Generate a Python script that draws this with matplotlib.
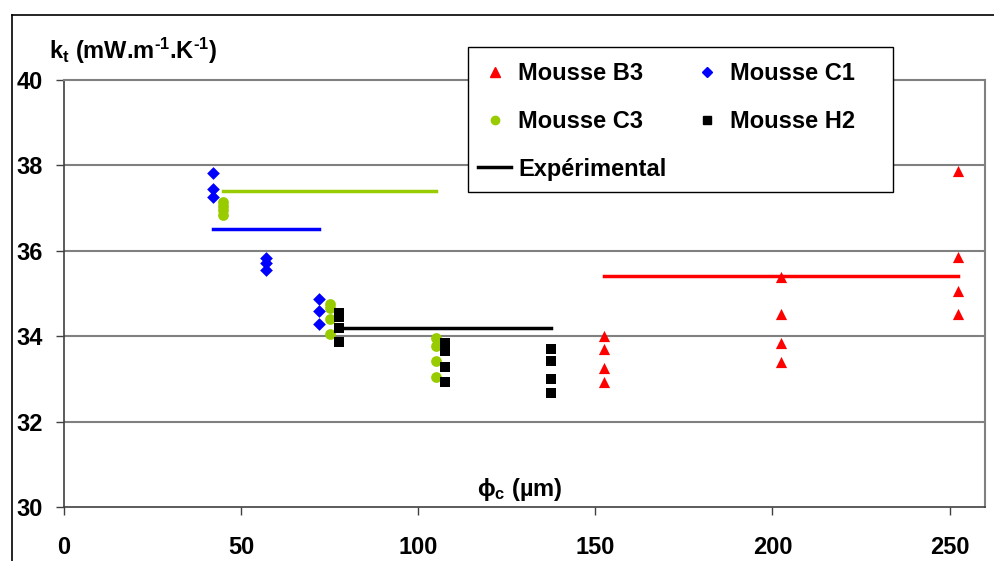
import matplotlib
matplotlib.use("Agg")
import matplotlib.pyplot as plt
from matplotlib.lines import Line2D
from matplotlib.patches import Rectangle

plt.rcParams['font.family'] = ['Liberation Sans', 'DejaVu Sans']
plt.rcParams['font.weight'] = 'bold'
plt.rcParams['mathtext.fontset'] = 'custom'
plt.rcParams['mathtext.rm'] = 'Liberation Sans:bold'
plt.rcParams['mathtext.it'] = 'Liberation Sans:bold'
plt.rcParams['mathtext.bf'] = 'Liberation Sans:bold'
plt.rcParams['mathtext.default'] = 'rm'

# Mousse B3 (red triangles)
b3_x = [152.5, 152.5, 152.5, 152.5, 202.5, 202.5, 202.5, 202.5, 252.5, 252.5, 252.5, 252.5]
b3_y = [34.0, 33.71, 33.26, 32.93, 35.39, 34.52, 33.85, 33.40, 37.88, 35.86, 35.06, 34.52]

# Mousse C1 (blue diamonds)
c1_x = [42, 42, 42, 57, 57, 57, 72, 72, 72]
c1_y = [37.83, 37.44, 37.27, 35.82, 35.71, 35.55, 34.87, 34.60, 34.29]

# Mousse C3 (green circles)
c3_x = [45, 45, 45, 45, 75, 75, 75, 75, 105, 105, 105, 105]
c3_y = [37.15, 37.05, 36.95, 36.85, 34.75, 34.65, 34.40, 34.05, 33.95, 33.76, 33.42, 33.05]

# Mousse H2 (black squares)
h2_x = [77.5, 77.5, 77.5, 77.5, 107.5, 107.5, 107.5, 107.5, 137.5, 137.5, 137.5, 137.5]
h2_y = [34.55, 34.45, 34.20, 33.87, 33.83, 33.66, 33.27, 32.92, 33.69, 33.43, 33.00, 32.67]

# experimental values (x range, value)
exp_b3 = ([152.5, 252.5], 35.4)
exp_c1 = ([42, 72], 36.5)
exp_c3 = ([45, 105], 37.4)
exp_h2 = ([77.5, 137.5], 34.2)

red = '#ff0000'
blue = '#0000ff'
green = '#99cc00'
black = '#000000'
fs = 17
W, H = 995, 561

fig = plt.figure(figsize=(W / 100, H / 100), dpi=100)
ax = fig.add_axes([64 / W, 1 - 507 / H, 921 / W, 427 / H])

# outer chart frame (left and top only visible)
fig.add_artist(Line2D([12 / W, 12 / W], [0, 1 - 15 / H], transform=fig.transFigure, color='black', lw=1.2))
fig.add_artist(Line2D([12 / W, 1], [1 - 15 / H, 1 - 15 / H], transform=fig.transFigure, color='black', lw=1.2))

for g in [32, 34, 36, 38]:
    ax.axhline(g, color='#808080', lw=1.5, zorder=0)

ax.plot(exp_c3[0], [exp_c3[1]] * 2, color=green, lw=2.5, zorder=2)
ax.plot(exp_c1[0], [exp_c1[1]] * 2, color=blue, lw=2.5, zorder=2)
ax.plot(exp_h2[0], [exp_h2[1]] * 2, color=black, lw=2.5, zorder=2)
ax.plot(exp_b3[0], [exp_b3[1]] * 2, color=red, lw=2.5, zorder=2)

ax.scatter(b3_x, b3_y, marker='^', s=65, color=red, lw=0, zorder=3)
ax.scatter(c1_x, c1_y, marker='D', s=42, color=blue, lw=0, zorder=3)
ax.scatter(c3_x, c3_y, marker='o', s=60, color=green, lw=0, zorder=3)
ax.scatter(h2_x, h2_y, marker='s', s=62, color=black, lw=0, zorder=3)

ax.set_xlim(0, 260)
ax.set_ylim(30, 40)
ax.set_xticks([0, 50, 100, 150, 200, 250])
ax.set_yticks([30, 32, 34, 36, 38, 40])
ax.tick_params(axis='both', labelsize=fs, length=6, width=1, color='#404040', direction='out')
ax.tick_params(axis='x', pad=15)
ax.tick_params(axis='y', pad=9)

for s in ['left', 'bottom']:
    ax.spines[s].set_color('#404040')
    ax.spines[s].set_linewidth(1.2)
for s in ['top', 'right']:
    ax.spines[s].set_color('#808080')
    ax.spines[s].set_linewidth(1.5)

fig.text(49 / W, 1 - 51 / H, r'k$_{t}$ (mW.m$^{‐1}$.K$^{‐1}$)', fontsize=fs, fontweight='bold', va='center', ha='left')
ax.text(0.495, 0.04, r'ϕ$_{c}$ (µm)', transform=ax.transAxes, fontsize=fs, fontweight='bold', ha='center', va='center')

# legend box
fig.add_artist(Rectangle((468 / W, 1 - 192 / H), 425 / W, 145 / H, transform=fig.transFigure,
                         facecolor='white', edgecolor='black', lw=1.0, zorder=4))

handles = [
    Line2D([], [], marker='^', color=red, ls='none', ms=7),
    Line2D([], [], marker='o', color=green, ls='none', ms=6),
    Line2D([], [], color=black, lw=2.5),
    Line2D([], [], marker='D', color=blue, ls='none', ms=5),
    Line2D([], [], marker='s', color=black, ls='none', ms=6),
]
labels = ['Mousse B3', 'Mousse C3', 'Expérimental', 'Mousse C1', 'Mousse H2']
leg = fig.legend(handles, labels, ncol=2, loc='upper left', bbox_to_anchor=(478 / W, 1 - 62 / H),
                 fontsize=fs, frameon=False, handlelength=1.4, handletextpad=0.3,
                 columnspacing=1.0, labelspacing=1.05, borderpad=0, borderaxespad=0)
leg.set_zorder(5)

fig.savefig('out.png', dpi=100)
